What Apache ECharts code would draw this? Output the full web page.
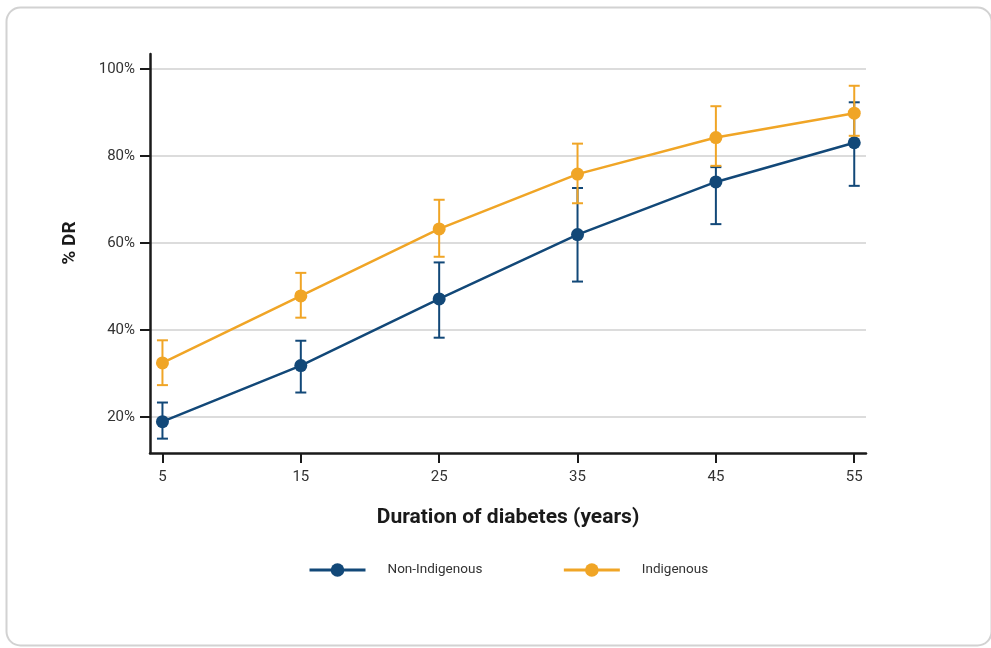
<!DOCTYPE html>
<html>
<head>
<meta charset="utf-8">
<script src="https://cdn.jsdelivr.net/npm/echarts@6/dist/echarts.min.js"></script>
<style>
html,body{margin:0;padding:0;background:#fff;}
#chart{width:991px;height:648px;}
</style>
</head>
<body>
<div id="chart"></div>
<script>
// Data
var durations = [5, 15, 25, 35, 45, 55];
var nonIndigenous = [18.9, 31.8, 47.1, 61.9, 74.0, 83.0];
var nonIndigenousLow = [15.0, 25.6, 38.2, 51.1, 64.3, 73.1];
var nonIndigenousHigh = [23.3, 37.5, 55.5, 72.6, 77.4, 92.3];
var indigenous = [32.4, 47.8, 63.2, 75.8, 84.2, 89.8];
var indigenousLow = [27.3, 42.8, 56.8, 69.1, 77.7, 84.6];
var indigenousHigh = [37.6, 53.1, 69.9, 82.8, 91.4, 96.1];
var yTicks = [20, 40, 60, 80, 100];
var seriesNames = ['Non-Indigenous', 'Indigenous'];

var BLUE = '#124878';
var ORANGE = '#f0a526';
var FONT = 'Roboto';

function pairs(xs, ys) { return xs.map(function (x, i) { return [x, ys[i]]; }); }
function errData(xs, lo, hi) { return xs.map(function (x, i) { return [x, lo[i], hi[i]]; }); }

function errRender(color) {
  return function (params, api) {
    var x = api.value(0);
    var lo = api.coord([x, api.value(1)]);
    var hi = api.coord([x, api.value(2)]);
    var hw = 5.5;
    var st = { stroke: color, lineWidth: 2 };
    return {
      type: 'group',
      children: [
        { type: 'line', shape: { x1: lo[0], y1: lo[1], x2: hi[0], y2: hi[1] }, style: st },
        { type: 'line', shape: { x1: lo[0] - hw, y1: lo[1], x2: lo[0] + hw, y2: lo[1] }, style: st },
        { type: 'line', shape: { x1: hi[0] - hw, y1: hi[1], x2: hi[0] + hw, y2: hi[1] }, style: st }
      ]
    };
  };
}

var chart = echarts.init(document.getElementById('chart'), null, { renderer: 'canvas' });
chart.setOption({
  animation: false,
  backgroundColor: '#fff',
  textStyle: { fontFamily: FONT },
  graphic: [
    { type: 'rect', z: -10, shape: { x: 6.5, y: 7.5, width: 985, height: 638, r: 14 },
      style: { fill: 'none', stroke: '#d2d2d2', lineWidth: 2 } },
    { type: 'text', x: 70, y: 243, rotation: Math.PI / 2,
      style: { text: '% DR', font: 'bold 19px ' + FONT, fill: '#1a1a1a', align: 'center', verticalAlign: 'middle' } }
  ],
  grid: { left: 150, right: 125, top: 54, bottom: 195, containLabel: false },
  legend: {
    data: seriesNames,
    bottom: 66,
    left: 303,
    itemWidth: 56,
    itemHeight: 17,
    itemGap: 80,
    lineStyle: { width: 3 },
    textStyle: { fontFamily: FONT, fontSize: 13.5, color: '#333', padding: [0, 0, 0, 17] }
  },
  xAxis: {
    type: 'value',
    min: 4.1,
    max: 55.85,
    name: 'Duration of diabetes (years)',
    nameLocation: 'middle',
    nameGap: 54,
    nameTextStyle: { fontFamily: FONT, fontSize: 21, fontWeight: 'bold', color: '#1a1a1a' },
    axisLine: { show: true, lineStyle: { color: '#1a1a1a', width: 2.5 } },
    axisTick: { show: true, length: 10, lineStyle: { color: '#1a1a1a', width: 2 }, customValues: durations },
    axisLabel: { customValues: durations, fontFamily: FONT, fontSize: 15, color: '#333', margin: 17 },
    splitLine: { show: false }
  },
  yAxis: {
    type: 'value',
    min: 11.7,
    max: 103.4,
    axisLine: { show: true, lineStyle: { color: '#1a1a1a', width: 2.5 } },
    axisTick: { show: true, length: 10, lineStyle: { color: '#1a1a1a', width: 2 }, customValues: yTicks },
    axisLabel: { customValues: yTicks, fontFamily: FONT, fontSize: 15, color: '#333', margin: 15,
      formatter: function (v) { return v + '%'; } },
    splitLine: { show: true, lineStyle: { color: '#d0d0d0', width: 1.5 } }
  },
  series: [
    { type: 'custom', name: 'errNon', renderItem: errRender(BLUE), data: errData(durations, nonIndigenousLow, nonIndigenousHigh), z: 3, encode: { x: 0, y: [1, 2] } },
    { type: 'line', name: seriesNames[0], data: pairs(durations, nonIndigenous), symbol: 'circle', symbolSize: 13,
      itemStyle: { color: BLUE }, lineStyle: { color: BLUE, width: 2.5 }, z: 4 },
    { type: 'custom', name: 'errInd', renderItem: errRender(ORANGE), data: errData(durations, indigenousLow, indigenousHigh), z: 5, encode: { x: 0, y: [1, 2] } },
    { type: 'line', name: seriesNames[1], data: pairs(durations, indigenous), symbol: 'circle', symbolSize: 13,
      itemStyle: { color: ORANGE }, lineStyle: { color: ORANGE, width: 2.5 }, z: 6 }
  ]
});
</script>
</body>
</html>
